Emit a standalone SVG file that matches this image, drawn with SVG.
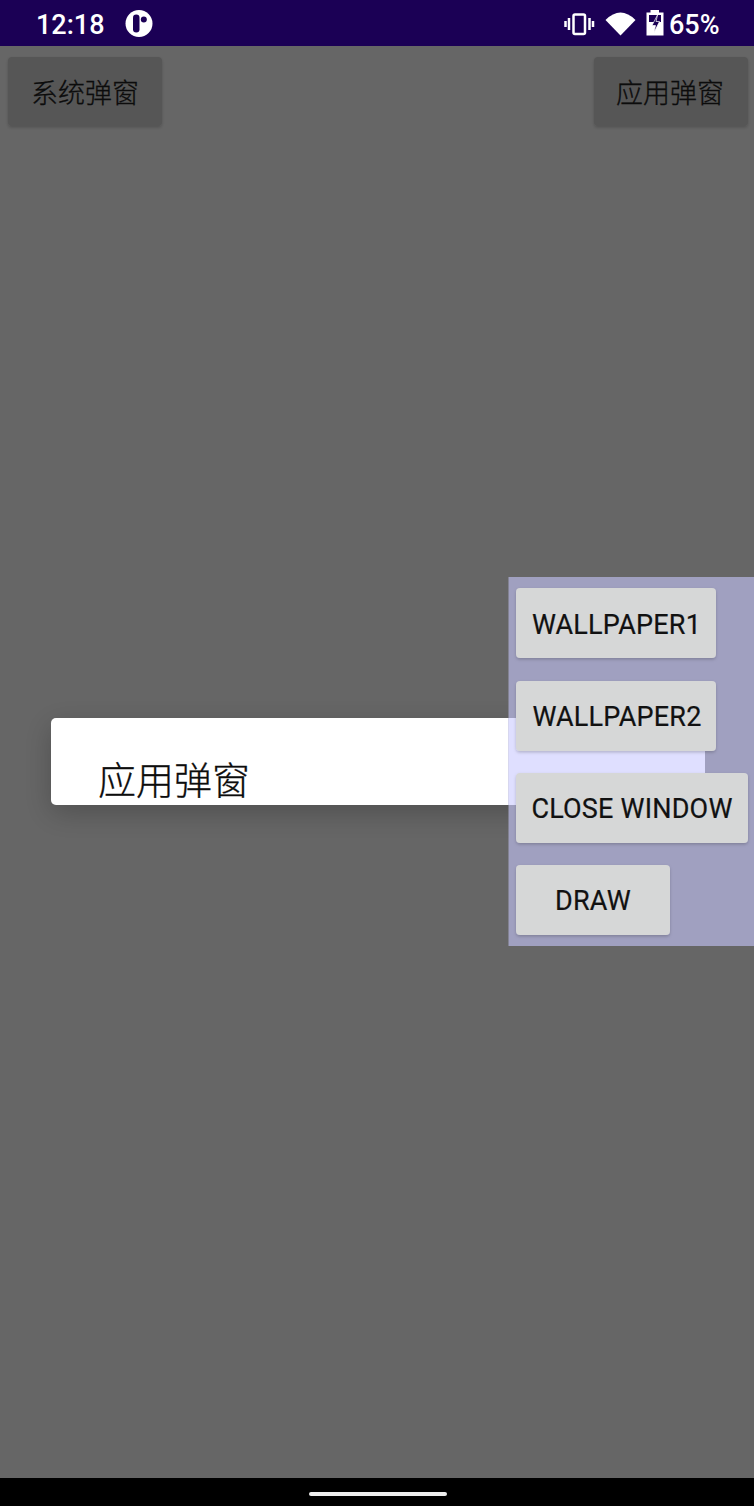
<svg xmlns="http://www.w3.org/2000/svg" width="754" height="1506" viewBox="0 0 754 1506">
<style>
.cjk{font-family:"Noto Sans CJK SC","Liberation Sans",sans-serif;font-weight:300;stroke:#0c0c0c;stroke-width:.3px;fill:#0c0c0c}
.rb{font-family:Roboto,"Liberation Sans",sans-serif}
.btn{fill:#d6d7d7;filter:url(#s)}
.dbtn{fill:#565656;filter:url(#s)}
.bt{font-size:27px;text-anchor:middle}
.lat{font-weight:400;fill:#111;letter-spacing:.2px;stroke:#111;stroke-width:.2px}
.st{font-size:27px;fill:#fff;font-weight:500}
</style>
<defs>
<filter id="s" x="-10%" y="-10%" width="120%" height="125%"><feDropShadow dx="0" dy="1.500" stdDeviation="1.500" flood-color="#000" flood-opacity=".2"/></filter>
<filter id="d" x="-15%" y="-60%" width="130%" height="240%"><feDropShadow dx="0" dy="8" stdDeviation="14" flood-color="#000" flood-opacity=".22"/></filter>
</defs>
<rect width="754" height="1506" fill="#666"/>
<g id="status-bar">
<rect width="754" height="46" fill="#1b0055"/>
<text class="rb st" x="36" y="34">12:18</text>
<circle cx="139" cy="23.500" r="13.500" fill="#fff"/>
<rect x="133" y="14.500" width="6.500" height="18" rx="3.250" fill="#1b0055"/>
<circle cx="143.800" cy="19.500" r="3" fill="#1b0055"/>
<g fill="none" stroke="#fff">
<rect x="573.500" y="14.500" width="11.500" height="19.500" rx="1.500" stroke-width="2.500"/>
<path d="M569 18v12M565.500 21v6M589.500 18v12M593 21v6" stroke-width="2.500"/>
</g>
<path d="M605.500 20Q620.500 5 635.500 20L620.500 35.500z" fill="#fff"/>
<path d="M650.500 10h8.500v2.500h4.500v23h-17v-23h4z" fill="#fff"/>
<rect x="649" y="15" width="12" height="7" fill="#1b0055"/>
<path d="M657.500 15l-5.500 10.500h3.500l-1.500 7 5.500-11h-3.500z" fill="#1b0055" stroke="#fff" stroke-width=".7"/>
<text class="rb st" x="669" y="34">65%</text>
</g>
<g id="btn-system">
<rect class="dbtn" x="8" y="57" width="154" height="69" rx="4"/>
<text class="cjk bt" x="85" y="103">系统弹窗</text>
</g>
<g id="btn-app">
<rect class="dbtn" x="594" y="57" width="154" height="69" rx="4"/>
<text class="cjk bt" x="670" y="103">应用弹窗</text>
</g>
<g id="app-dialog">
<rect x="51" y="718" width="654" height="87" rx="5" fill="#fff" filter="url(#d)"/>
<text class="cjk" x="98" y="794" font-size="38">应用弹窗</text>
</g>
<g id="floating-panel">
<rect x="508.500" y="577" width="245.500" height="369" fill="#a0a0c0"/>
<rect x="508.500" y="718" width="196.500" height="87" fill="#dfdfff"/>
</g>
<g id="btn-wallpaper1">
<rect class="btn" x="516" y="588" width="200" height="70" rx="4"/>
<text class="rb bt lat" x="616.500" y="634">WALLPAPER1</text>
</g>
<g id="btn-wallpaper2">
<rect class="btn" x="516" y="681" width="200" height="70" rx="4"/>
<text class="rb bt lat" x="617" y="726">WALLPAPER2</text>
</g>
<g id="btn-close">
<rect class="btn" x="516" y="773" width="232" height="70" rx="4"/>
<text class="rb bt lat" x="632" y="818">CLOSE WINDOW</text>
</g>
<g id="btn-draw">
<rect class="btn" x="516" y="865" width="154" height="70" rx="4"/>
<text class="rb bt lat" x="593" y="910">DRAW</text>
</g>
<g id="nav-bar">
<rect y="1478" width="754" height="28" fill="#000"/>
<rect x="309" y="1492" width="138" height="4" rx="2" fill="#eee"/>
</g>
</svg>
